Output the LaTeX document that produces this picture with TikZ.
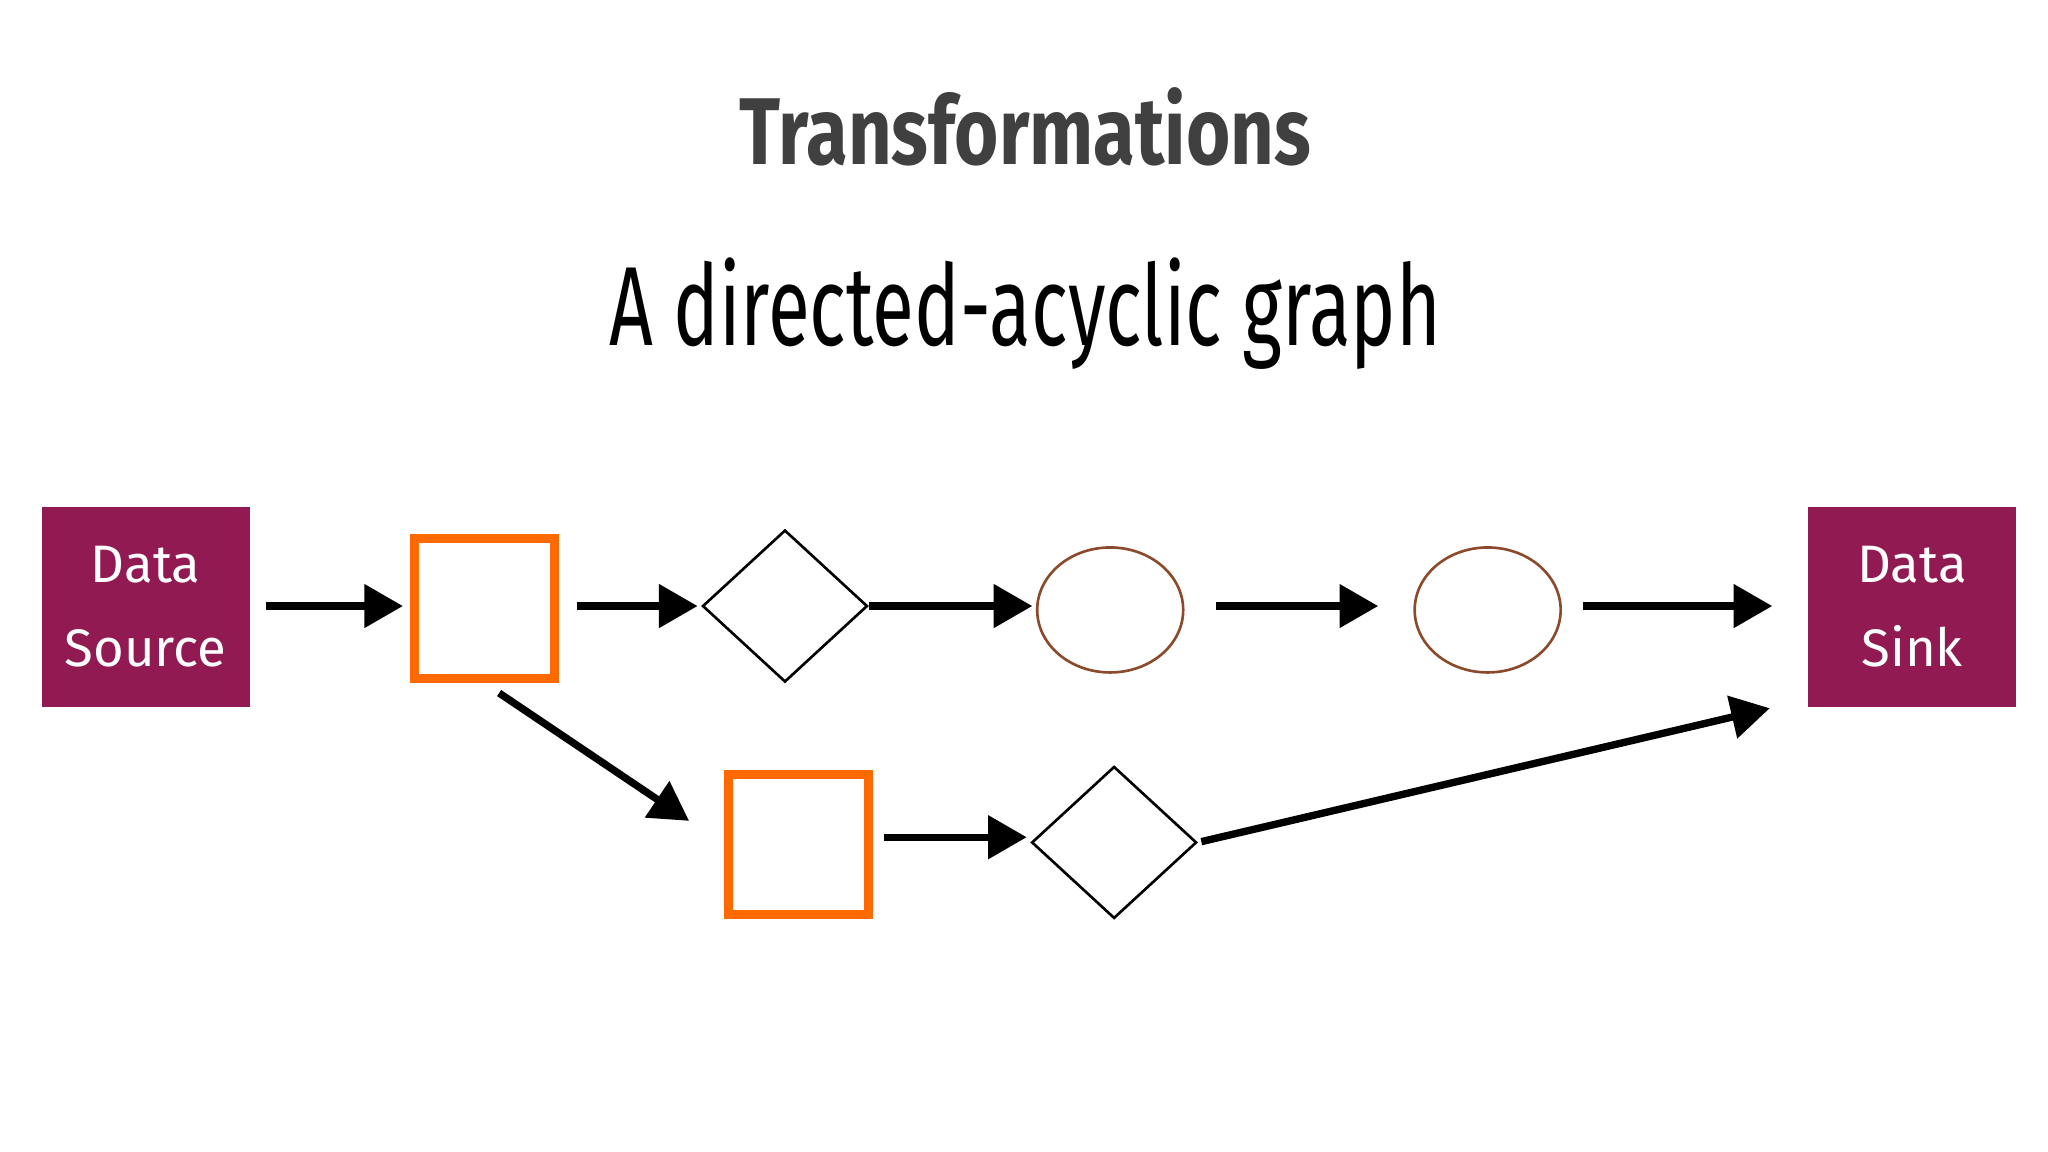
\documentclass[tikz,border=0pt]{standalone}
\usepackage{fontspec}
\setmainfont{Fira Sans}
\usetikzlibrary{shapes.geometric,arrows.meta}
\definecolor{maroon}{HTML}{911A52}
\definecolor{orng}{HTML}{FF6A00}
\definecolor{brwn}{HTML}{8B4A2B}
\definecolor{ttl}{HTML}{404040}
\begin{document}
\begin{tikzpicture}[x=0.013061cm,y=-0.013061cm,
  datab/.style={rectangle,fill=maroon,minimum width=2.08cm,minimum height=2.0cm,text=white,align=center,font=\fontsize{15}{24}\selectfont,inner sep=0},
  osq/.style={rectangle,draw=orng,line width=2.6pt,minimum size=1.40cm,inner sep=0},
  dia/.style={diamond,draw=black,line width=0.75pt,minimum width=1.65cm,minimum height=1.52cm,inner sep=0,aspect=1.08},
  ell/.style={ellipse,draw=brwn,line width=0.75pt,minimum width=1.46cm,minimum height=1.25cm,inner sep=0},
  arr/.style={line width=2.1pt,-{Triangle[length=11pt,width=12pt]}}]
\useasboundingbox (0,0) rectangle (1568,882);
\node[font=\bfseries\fontsize{27}{30}\selectfont,text=ttl,xscale=0.8] (title) at (785,97) {Transformations};
\node[font=\fontsize{32}{36}\selectfont,xscale=0.68] (sub) at (785,240) {A directed-acyclic graph};
\node[datab] (src) at (111.5,464.5) {Data\\Source};
\node[datab] (sink) at (1464,464.5) {Data\\Sink};
\node[osq] (s1) at (371,466) {};
\node[dia] (d1) at (601,464) {};
\node[ell] (e1) at (850,467) {};
\node[ell] (e2) at (1139,467) {};
\node[osq] (s2) at (611.5,646.5) {};
\node[dia] (d2) at (853,645) {};
\draw[arr,shorten <=4.5pt,shorten >=2pt] (src.east |- 0,464) -- (s1.west |- 0,464);
\draw[arr,shorten <=5pt,shorten >=1pt] (s1.east |- 0,464) -- (d1.west);
\draw[arr,shorten >=1pt] (d1.east) -- (e1.west |- 0,464);
\draw[arr,shorten <=9pt,shorten >=10pt] (e1.east |- 0,464) -- (e2.west |- 0,464);
\draw[arr,shorten <=6pt,shorten >=10pt] (e2.east |- 0,464) -- (sink.west |- 0,464);
\draw[arr,shorten <=5pt,shorten >=12pt] (s1.south) -- (s2.west);
\draw[arr,shorten <=3pt,shorten >=1pt] (s2.east |- 0,641) -- (d2.west |- 0,641);
\draw[arr,shorten <=1pt,shorten >=11pt] (d2.east) -- ([yshift=0.08cm]sink.south west);
\end{tikzpicture}
\end{document}
